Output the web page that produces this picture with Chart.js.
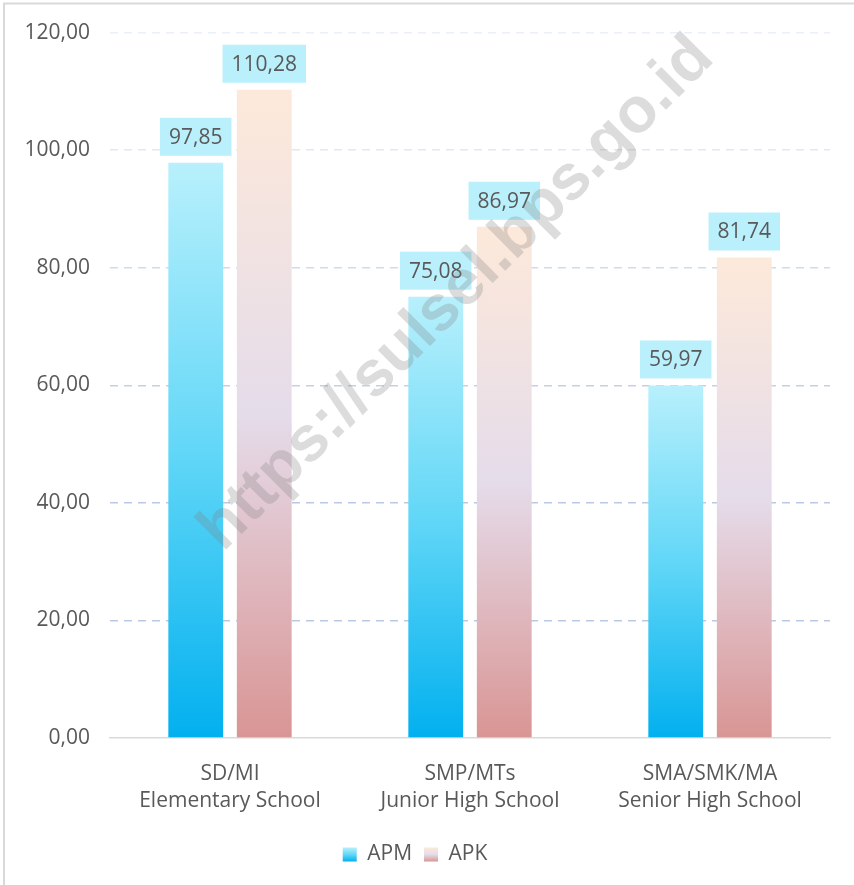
<!DOCTYPE html>
<html>
<head>
<meta charset="utf-8">
<script src="https://cdn.jsdelivr.net/npm/chart.js@4.4.1/dist/chart.umd.min.js"></script>
<style>
  html, body { margin: 0; padding: 0; background: #fff; }
  #wrap { position: relative; width: 854px; height: 885px; }
</style>
</head>
<body>
<div id="wrap"><canvas id="chart" width="854" height="885"></canvas></div>
<script>
// data
var categories = [['SD/MI', 'Elementary School'], ['SMP/MTs', 'Junior High School'], ['SMA/SMK/MA', 'Senior High School']];
var apm = [97.85, 75.08, 59.97];
var apk = [110.28, 86.97, 81.74];
var seriesNames = ['APM', 'APK'];
var yTicks = [0, 20, 40, 60, 80, 100, 120];

var textColor = '#595959';
var fontFamily = '"Open Sans", sans-serif';

var stopsAPM = [[0, '#02b0ef'], [0.5, '#62d7f7'], [1, '#b8f0fc']];
var stopsAPK = [[0, '#d99594'], [0.5, '#e5dcea'], [1, '#fde9da']];

function fmt(v) {
    return v.toFixed(2).replace('.', ',');
}

function barGradient(stops) {
    return function(context) {
        var chart = context.chart;
        if (!chart.chartArea || context.type !== 'data') return stops[1][1];
        var y = chart.scales.y;
        var y0 = y.getPixelForValue(0);
        var y1 = y.getPixelForValue(context.raw);
        var g = chart.ctx.createLinearGradient(0, y0, 0, y1);
        stops.forEach(function(s) { g.addColorStop(s[0], s[1]); });
        return g;
    };
}

var gridColors = { 20: '#b9c9e3', 40: '#b9c9e3', 60: '#c3d0e8', 80: '#d0dbee', 100: '#e1e8f4', 120: '#ebf0f8' };

// frame, labels over bars, legend boxes and watermark
var extras = {
    id: 'extras',
    beforeDraw: function(chart) {
        var ctx = chart.ctx;
        ctx.save();
        ctx.fillStyle = '#fff';
        ctx.fillRect(0, 0, chart.width, chart.height);
        ctx.strokeStyle = '#d9d9d9';
        ctx.lineWidth = 2;
        ctx.beginPath();
        ctx.moveTo(4, chart.height);
        ctx.lineTo(4, 3.5);
        ctx.lineTo(chart.width, 3.5);
        ctx.stroke();
        ctx.restore();
    },
    afterDatasetsDraw: function(chart) {
        var ctx = chart.ctx;
        ctx.save();
        ctx.font = '21px ' + fontFamily;
        ctx.textAlign = 'center';
        ctx.textBaseline = 'middle';
        chart.data.datasets.forEach(function(ds, i) {
            chart.getDatasetMeta(i).data.forEach(function(bar, j) {
                var txt = fmt(ds.data[j]);
                var w = ctx.measureText(txt).width + 18;
                var h = 38;
                var bottom = bar.y - 7;
                ctx.fillStyle = '#b9f0fc';
                ctx.fillRect(bar.x - w / 2, bottom - h, w, h);
                ctx.fillStyle = textColor;
                ctx.fillText(txt, bar.x, bottom - h / 2 + 1);
            });
        });
        ctx.restore();
    },
    afterDraw: function(chart) {
        var ctx = chart.ctx;
        ctx.save();
        // legend boxes with gradients
        var boxes = chart.legend.legendHitBoxes;
        [stopsAPM, stopsAPK].forEach(function(stops, i) {
            var hb = boxes[i];
            if (!hb) return;
            var top = hb.top + hb.height / 2 - 7;
            var g = ctx.createLinearGradient(0, top + 14, 0, top);
            stops.forEach(function(s) { g.addColorStop(s[0], s[1]); });
            ctx.fillStyle = g;
            ctx.fillRect(hb.left, top, 14, 14);
        });
        // watermark
        ctx.translate(457, 294);
        ctx.rotate(-Math.PI / 4);
        ctx.font = 'bold 64px "Liberation Sans", Arial, sans-serif';
        ctx.textAlign = 'center';
        ctx.textBaseline = 'middle';
        ctx.fillStyle = 'rgba(128,128,128,0.28)';
        ctx.fillText('https://sulsel.bps.go.id', 0, 0);
        ctx.restore();
    }
};

new Chart(document.getElementById('chart'), {
    type: 'bar',
    data: {
        labels: categories,
        datasets: [{
            label: seriesNames[0],
            data: apm,
            backgroundColor: barGradient(stopsAPM)
        }, {
            label: seriesNames[1],
            data: apk,
            backgroundColor: barGradient(stopsAPK)
        }]
    },
    options: {
        responsive: false,
        animation: false,
        categoryPercentage: 0.571,
        barPercentage: 0.8,
        layout: { padding: { top: 32, right: 24, bottom: 10, left: 0 } },
        plugins: {
            tooltip: { enabled: false },
            legend: {
                position: 'bottom',
                labels: {
                    color: textColor,
                    font: { family: fontFamily, size: 21 },
                    boxWidth: 14,
                    boxHeight: 14,
                    padding: 12,
                    generateLabels: function(chart) {
                        return chart.data.datasets.map(function(ds, i) {
                            return {
                                text: ds.label,
                                fillStyle: 'rgba(0,0,0,0)',
                                strokeStyle: 'rgba(0,0,0,0)',
                                lineWidth: 0,
                                fontColor: textColor,
                                datasetIndex: i
                            };
                        });
                    }
                }
            }
        },
        scales: {
            x: {
                grid: { display: false },
                border: { display: true, color: '#d9d9d9', width: 1.5 },
                ticks: {
                    color: textColor,
                    font: { family: fontFamily, size: 21, lineHeight: 1.3 },
                    padding: 14,
                    maxRotation: 0
                },
                afterFit: function(s) { s.height = 94; }
            },
            y: {
                min: 0,
                max: 120,
                afterBuildTicks: function(s) {
                    s.ticks = yTicks.map(function(v) { return { value: v }; });
                },
                border: { display: false, dash: [8, 6] },
                grid: {
                    drawTicks: false,
                    lineWidth: 1.5,
                    color: function(c) {
                        return gridColors[c.tick.value] || 'rgba(0,0,0,0)';
                    }
                },
                ticks: {
                    color: textColor,
                    font: { family: fontFamily, size: 21 },
                    padding: 20,
                    callback: function(v) { return fmt(v); }
                },
                afterFit: function(s) { s.width = 110; }
            }
        }
    },
    plugins: [extras]
});
</script>
</body>
</html>
